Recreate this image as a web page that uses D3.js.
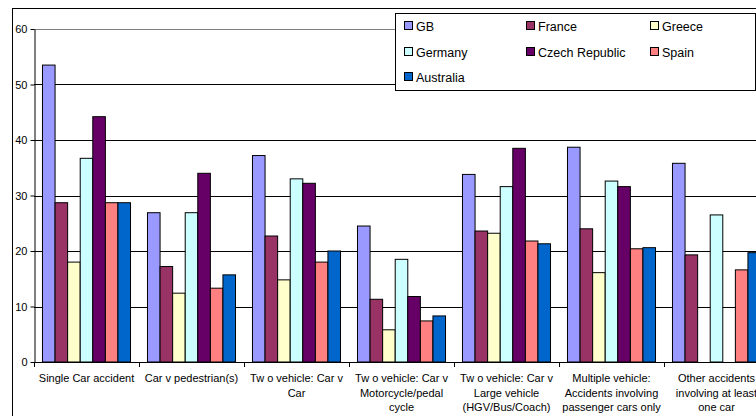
<!DOCTYPE html>
<html><head><meta charset="utf-8">
<script src="https://cdn.jsdelivr.net/npm/d3@7"></script>
<style>body{margin:0;background:#fff}svg{display:block}svg text{font-family:"Liberation Sans",Arial,sans-serif}</style>
</head><body><svg id="c" width="756" height="416"></svg>
<script>
const categories = [
  "Single Car accident",
  "Car v pedestrian(s)",
  "Tw o vehicle: Car v|Car",
  "Tw o vehicle: Car v|Motorcycle/pedal|cycle",
  "Tw o vehicle: Car v|Large vehicle|(HGV/Bus/Coach)",
  "Multiple vehicle:|Accidents involving|passenger cars only",
  "Other accidents|involving at least|one car"
];
const seriesNames = ["GB","France","Greece","Germany","Czech Republic","Spain","Australia"];
const seriesColors = ["#9999FF","#993366","#FFFFCC","#CCFFFF","#660066","#FF8080","#0066CC"];
const GB        = [53.5, 26.9, 37.2, 24.5, 33.8, 38.7, 35.8];
const France    = [28.7, 17.2, 22.7, 11.3, 23.6, 24.0, 19.3];
const Greece    = [18.0, 12.4, 14.8, 5.8, 23.2, 16.1, null];
const Germany   = [36.7, 26.9, 33.0, 18.5, 31.6, 32.6, 26.5];
const Czech     = [44.2, 34.0, 32.2, 11.8, 38.5, 31.6, null];
const Spain     = [28.7, 13.3, 18.0, 7.4, 21.8, 20.4, 16.6];
const Australia = [28.7, 15.7, 20.0, 8.3, 21.3, 20.6, 19.7];
const yTicks = [0,10,20,30,40,50,60];

(function(){
const seriesValues = [GB, France, Greece, Germany, Czech, Spain, Australia];
const svg = d3.select("#c");
const FONT = "'Liberation Sans', Arial, sans-serif";

svg.append("rect").attr("x",12.5).attr("y",8.5).attr("width",800).attr("height",500)
  .attr("fill","#fff").attr("stroke","#000").attr("stroke-width",1);

const pL = 34, pR = 769, pT = 29, pB = 362;
const x0 = d3.scaleBand().domain(d3.range(categories.length)).range([pL,pR]).padding(0);
const x1 = d3.scaleBand().domain(d3.range(seriesNames.length)).range([0,x0.bandwidth()])
  .paddingInner(0).paddingOuter(8.5/12.6);
const y = d3.scaleLinear().domain([0,60]).range([pB,pT]);

const g = svg.append("g");
g.selectAll("line.grid").data(yTicks.filter(d=>d>0 && d<60)).join("line")
  .attr("x1",pL).attr("x2",pR).attr("y1",d=>Math.round(y(d))+0.5).attr("y2",d=>Math.round(y(d))+0.5)
  .attr("stroke","#000");
g.append("line").attr("x1",pL).attr("x2",pR).attr("y1",Math.round(y(60))+0.5).attr("y2",Math.round(y(60))+0.5)
  .attr("stroke","#808080");

const cat = svg.append("g").selectAll("g").data(categories).join("g")
  .attr("transform",(d,i)=>`translate(${x0(i)},0)`);
cat.selectAll("rect").data((d,i)=>seriesValues.map((s,j)=>({j, v:s[i]})).filter(e=>e.v!=null)).join("rect")
  .attr("x",e=>x1(e.j)).attr("width",x1.bandwidth())
  .attr("y",e=>y(e.v)).attr("height",e=>y(0)-y(e.v))
  .attr("fill",e=>seriesColors[e.j]).attr("stroke","#000").attr("stroke-width",1);

const ya = svg.append("g").attr("transform",`translate(${pL+0.5},0)`)
  .call(d3.axisLeft(y).tickValues(yTicks).tickSize(4).tickPadding(3).tickSizeOuter(0));
ya.attr("font-family",FONT);
ya.select(".domain").attr("stroke","#000");
ya.selectAll("text").attr("font-size","11px").attr("font-family",FONT).attr("fill","#000");

const xa = svg.append("g");
xa.append("line").attr("x1",pL).attr("x2",pR).attr("y1",pB+0.5).attr("y2",pB+0.5).attr("stroke","#000");
const bounds = d3.range(categories.length+1).map(i=> i<categories.length ? x0(i) : x0(i-1)+x0.bandwidth());
xa.selectAll("line.t").data(bounds).join("line").attr("class","t")
  .attr("x1",d=>Math.round(d)+0.5).attr("x2",d=>Math.round(d)+0.5).attr("y1",pB).attr("y2",pB+5).attr("stroke","#000");
const lbl = xa.selectAll("text").data(categories).join("text")
  .attr("x",(d,i)=>x0(i)+x0.bandwidth()/2).attr("y",382)
  .attr("text-anchor","middle").attr("font-size","11px").attr("font-family",FONT).attr("fill","#000");
lbl.selectAll("tspan").data(d=>d.split("|")).join("tspan")
  .attr("x",function(){return this.parentNode.getAttribute("x");})
  .attr("dy",(d,i)=>i===0?0:14.5).text(d=>d);

const lg = svg.append("g");
lg.append("rect").attr("x",395.5).attr("y",13.5).attr("width",360).attr("height",77)
  .attr("fill","#fff").attr("stroke","#000");
const colX = [404, 526, 650], rowY = [26, 52, 77];
const items = lg.selectAll("g").data(seriesNames).join("g")
  .attr("transform",(d,i)=>`translate(${colX[i%3]},${rowY[Math.floor(i/3)]})`);
items.append("rect").attr("x",0.5).attr("y",-4.5).attr("width",8).attr("height",8)
  .attr("fill",(d,i)=>seriesColors[i]).attr("stroke","#000");
items.append("text").attr("x",12).attr("y",4.5).attr("font-size","12.5px").attr("font-family",FONT).attr("fill","#000").text(d=>d);
})();
</script></body></html>
